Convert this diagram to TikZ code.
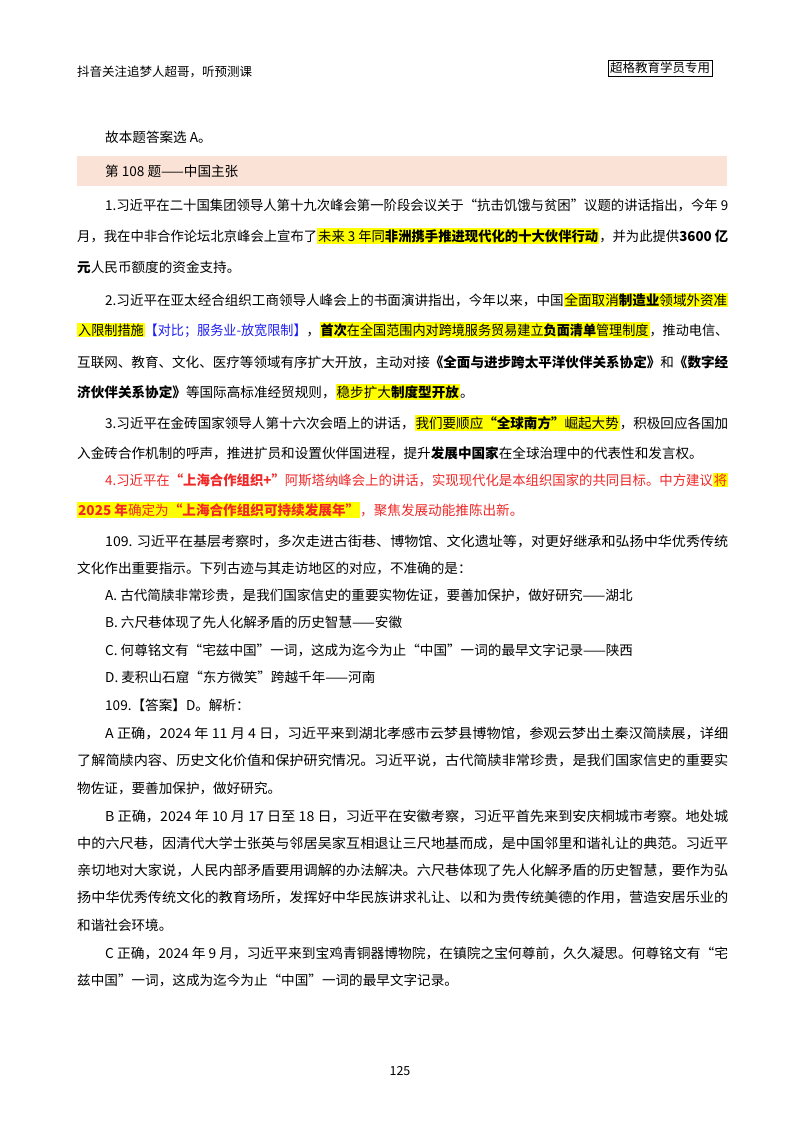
\documentclass[tikz,border=0pt]{standalone}
\usepackage{fontspec}
\usepackage{graphicx}
\setmainfont{Noto Sans CJK SC}
\definecolor{bandpink}{RGB}{250,226,214}
\definecolor{hlyellow}{RGB}{255,255,0}
\definecolor{notered}{RGB}{240,40,40}
\definecolor{noteblue}{RGB}{30,30,240}
\newcommand\hlt[1]{{\setlength{\fboxsep}{1pt}\colorbox{hlyellow}{#1}}}
\newcommand\fullln[1]{\resizebox{651pt}{\height}{#1}}
\newcommand\indln[1]{\resizebox{623pt}{\height}{#1}}
\tikzset{
  line/.style={anchor=west, inner sep=0pt, font=\fontsize{13.6}{16}\selectfont},
  hdr/.style={anchor=west, inner sep=0pt, font=\fontsize{12.5}{15}\selectfont}
}
\begin{document}
\begin{tikzpicture}[x=1pt,y=-1pt]
        \useasboundingbox (0,0) rectangle (800,1132);
        \fill[white] (0,0) rectangle (800,1132);

        % header
        \node[hdr] (head) at (77,72) {抖音关注追梦人超哥，听预测课};
        \node[hdr, draw, inner sep=2pt] (tag) at (608,68) {超格教育学员专用};

        \node[line] (ans) at (105,137) {故本题答案选 A。};
        \fill[bandpink] (77,156) rectangle (727,186);
        \node[line] (q108) at (105,171) {第 108 题——中国主张};

        % paragraph 1
        \node[line] (p1a) at (105,205) {\indln{1.习近平在二十国集团领导人第十九次峰会第一阶段会议关于“抗击饥饿与贫困”议题的讲话指出，今年 9}};
        \node[line] (p1b) at (77,236) {\fullln{月，我在中非合作论坛北京峰会上宣布了\hlt{未来 3 年同\textbf{非洲携手推进现代化的十大伙伴行动}}，并为此提供\textbf{3600 亿}}};
        \node[line] (p1c) at (77,267) {\textbf{元}人民币额度的资金支持。};

        % paragraph 2
        \node[line] (p2a) at (105,300) {\indln{2.习近平在亚太经合组织工商领导人峰会上的书面演讲指出，今年以来，中国\hlt{全面取消\textbf{制造业}领域外资准}}};
        \node[line] (p2b) at (77,330) {\fullln{\hlt{入限制措施}\textcolor{noteblue}{【对比；服务业-放宽限制】}，\hlt{\textbf{首次}在全国范围内对跨境服务贸易建立\textbf{负面清单}管理制度}，推动电信、}};
        \node[line] (p2c) at (77,362) {\fullln{互联网、教育、文化、医疗等领域有序扩大开放，主动对接\textbf{《全面与进步跨太平洋伙伴关系协定》}和\textbf{《数字经}}};
        \node[line] (p2d) at (77,392) {\textbf{济伙伴关系协定》}等国际高标准经贸规则，\hlt{稳步扩大\textbf{制度型开放}}。};

        % paragraph 3
        \node[line] (p3a) at (105,423) {\indln{3.习近平在金砖国家领导人第十六次会晤上的讲话，\hlt{我们要顺应\textbf{“全球南方”}崛起大势}，积极回应各国加}};
        \node[line] (p3b) at (77,453) {入金砖合作机制的呼声，推进扩员和设置伙伴国进程，提升\textbf{发展中国家}在全球治理中的代表性和发言权。};

        % paragraph 4
        \node[line, text=notered] (p4a) at (105,480) {\indln{4.习近平在\textbf{“上海合作组织+”}阿斯塔纳峰会上的讲话，实现现代化是本组织国家的共同目标。中方建议\hlt{将}}};
        \node[line, text=notered] (p4b) at (77,510) {\hlt{\textbf{2025 年}确定为\textbf{“上海合作组织可持续发展年”}}，聚焦发展动能推陈出新。};

        % question 109
        \node[line] (q1) at (105,541) {\indln{109. 习近平在基层考察时，多次走进古街巷、博物馆、文化遗址等，对更好继承和弘扬中华优秀传统}};
        \node[line] (q2) at (77,568) {文化作出重要指示。下列古迹与其走访地区的对应，不准确的是：};
        \node[line] (qa) at (105,595) {A. 古代简牍非常珍贵，是我们国家信史的重要实物佐证，要善加保护，做好研究——湖北};
        \node[line] (qb) at (105,622) {B. 六尺巷体现了先人化解矛盾的历史智慧——安徽};
        \node[line] (qc) at (105,650) {C. 何尊铭文有“宅兹中国”一词，这成为迄今为止“中国”一词的最早文字记录——陕西};
        \node[line] (qd) at (105,677) {D. 麦积山石窟“东方微笑”跨越千年——河南};
        \node[line] (key) at (105,705) {109.【答案】D。解析：};

        \node[line] (a1) at (105,733) {\indln{A 正确，2024 年 11 月 4 日，习近平来到湖北孝感市云梦县博物馆，参观云梦出土秦汉简牍展，详细}};
        \node[line] (a2) at (77,760) {\fullln{了解简牍内容、历史文化价值和保护研究情况。习近平说，古代简牍非常珍贵，是我们国家信史的重要实}};
        \node[line] (a3) at (77,788) {物佐证，要善加保护，做好研究。};

        \node[line] (b1) at (105,816) {\indln{B 正确，2024 年 10 月 17 日至 18 日，习近平在安徽考察，习近平首先来到安庆桐城市考察。地处城}};
        \node[line] (b2) at (77,843) {\fullln{中的六尺巷，因清代大学士张英与邻居吴家互相退让三尺地基而成，是中国邻里和谐礼让的典范。习近平}};
        \node[line] (b3) at (77,870) {\fullln{亲切地对大家说，人民内部矛盾要用调解的办法解决。六尺巷体现了先人化解矛盾的历史智慧，要作为弘}};
        \node[line] (b4) at (77,897) {\fullln{扬中华优秀传统文化的教育场所，发挥好中华民族讲求礼让、以和为贵传统美德的作用，营造安居乐业的}};
        \node[line] (b5) at (77,925) {和谐社会环境。};

        \node[line] (c1) at (105,953) {\indln{C 正确，2024 年 9 月，习近平来到宝鸡青铜器博物院，在镇院之宝何尊前，久久凝思。何尊铭文有“宅}};
        \node[line] (c2) at (77,980) {兹中国”一词，这成为迄今为止“中国”一词的最早文字记录。};

        \node[hdr, anchor=center] (pg) at (400,1071) {125};
\end{tikzpicture}
\end{document}
